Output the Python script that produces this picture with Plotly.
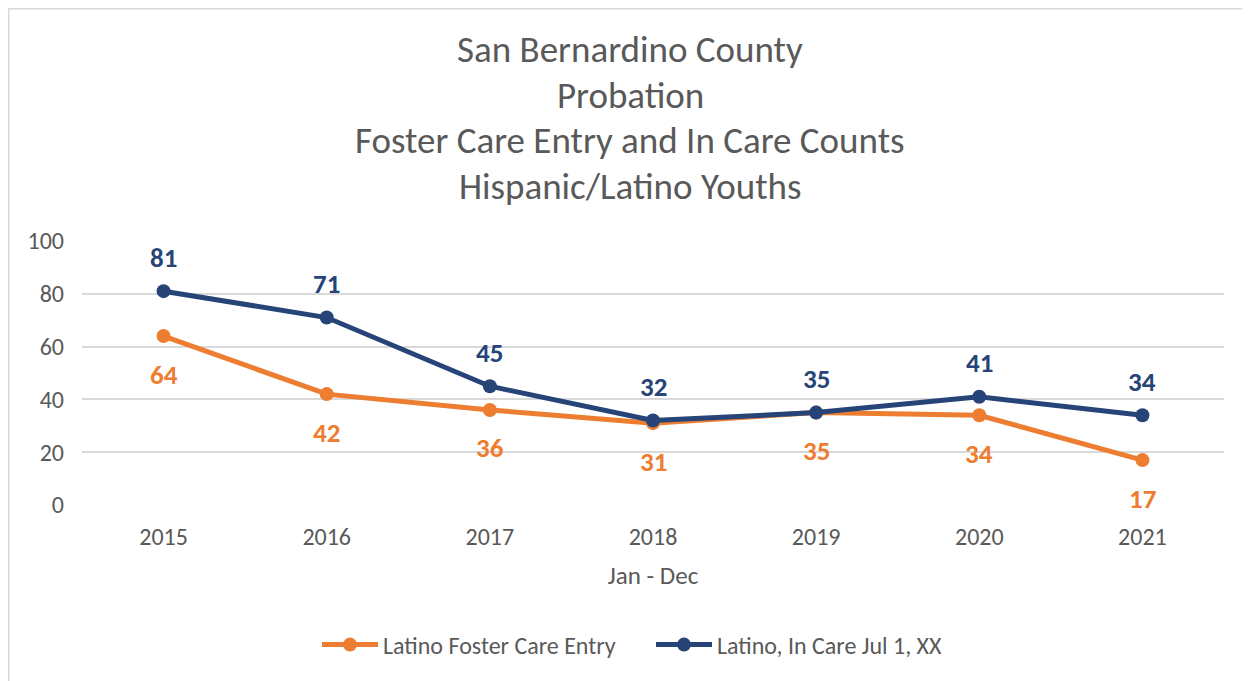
import plotly.graph_objects as go

years = ["2015", "2016", "2017", "2018", "2019", "2020", "2021"]
entry = [64, 42, 36, 31, 35, 34, 17]
in_care = [81, 71, 45, 32, 35, 41, 34]
y_ticks = [0, 20, 40, 60, 80, 100]
title_lines = ["San Bernardino County", "Probation",
               "Foster Care Entry and In Care Counts", "Hispanic/Latino Youths"]

ORANGE = "#ED7D31"
BLUE = "#264478"
GRAY = "#595959"
FONT = "Carlito, Lato, sans-serif"

OFF = 8  # page body margin
W, H = 1250 - OFF, 681 - OFF
L, R, T, B = 82 - OFF, 26, 241 - OFF, 176
pw = W - L - R
ph = H - T - B

fig = go.Figure()
fig.add_trace(go.Scatter(x=years, y=entry, mode="lines+markers",
                         name="Latino Foster Care Entry",
                         line=dict(color=ORANGE, width=5),
                         marker=dict(color=ORANGE, size=14)))
fig.add_trace(go.Scatter(x=years, y=in_care, mode="lines+markers",
                         name="Latino, In Care Jul 1, XX",
                         line=dict(color=BLUE, width=5),
                         marker=dict(color=BLUE, size=14)))

annotations = []
for i, v in enumerate(in_care):
    annotations.append(dict(x=i, y=v, xref="x", yref="y", text=str(v), showarrow=False,
                            yshift=34, font=dict(family=FONT, size=27, color=BLUE, weight="bold")))
for i, v in enumerate(entry):
    annotations.append(dict(x=i, y=v, xref="x", yref="y", text=str(v), showarrow=False,
                            yshift=-38, font=dict(family=FONT, size=27, color=ORANGE, weight="bold")))
for py, line in zip([50, 96, 141, 186], title_lines):
    annotations.append(dict(x=(630 - 82) / pw, y=1 + (241 - py) / ph, xref="paper", yref="paper",
                            text=line, showarrow=False, yanchor="middle", xanchor="center",
                            font=dict(family=FONT, size=37, color=GRAY)))

fig.add_shape(type="rect", xref="paper", yref="paper",
              x0=(0.75 - L) / pw, x1=1 + (R + 10) / pw,
              y0=-(B + 10) / ph, y1=1 + (T - 0.75) / ph,
              line=dict(color="#D9D9D9", width=1.5), fillcolor="rgba(0,0,0,0)", layer="below")

fig.update_layout(
    width=W, height=H,
    margin=dict(l=L, r=R, t=T, b=B, autoexpand=False),
    paper_bgcolor="white", plot_bgcolor="white",
    font=dict(family=FONT, color=GRAY, size=24),
    annotations=annotations,
    showlegend=True,
    legend=dict(orientation="h", x=(651 - OFF) / W, xanchor="center", xref="container",
                y=1 - (645 - OFF) / H, yref="container", yanchor="middle",
                font=dict(family=FONT, size=24, color=GRAY), itemwidth=56,
                entrywidth=263, entrywidthmode="pixels", traceorder="normal"),
    xaxis=dict(type="category", range=[-0.5, 6.5], showgrid=False, zeroline=False,
               showline=False, ticks="", tickfont=dict(size=24, color=GRAY),
               ticklabelstandoff=15,
               title=dict(text="Jan - Dec", font=dict(size=25, color=GRAY), standoff=16)),
    yaxis=dict(range=[0, 100], tickvals=y_ticks, showgrid=True, gridcolor="#D9D9D9",
               gridwidth=1.5, zeroline=False, showline=False, ticks="",
               tickfont=dict(size=24, color=GRAY), ticklabelstandoff=17),
)

fig.write_html("out.html")
